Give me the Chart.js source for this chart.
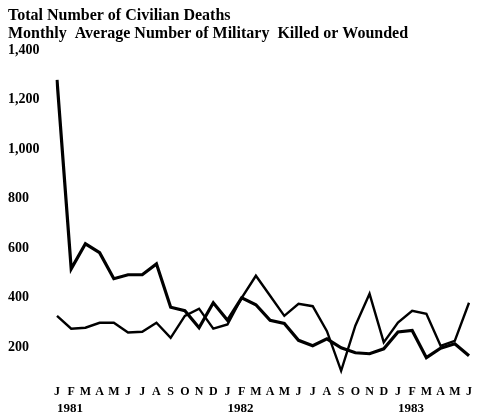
<!DOCTYPE html>
<html>
<head>
<meta charset="utf-8">
<script src="https://cdn.jsdelivr.net/npm/chart.js@4/dist/chart.umd.min.js"></script>
<style>
  html, body { margin: 0; padding: 0; background: #fff; }
  #wrap { width: 480px; height: 415px; }
</style>
</head>
<body>
<div id="wrap"><canvas id="chart" width="480" height="415"></canvas></div>
<script>
// month letters, Jan 1981 .. Jun 1983
const months = ['J', 'F', 'M', 'A', 'M', 'J', 'J', 'A', 'S', 'O', 'N', 'D',
  'J', 'F', 'M', 'A', 'M', 'J', 'J', 'A', 'S', 'O', 'N', 'D',
  'J', 'F', 'M', 'A', 'M', 'J']
const years = ['1981', '', '', '', '', '', '', '', '', '', '', '',
  '1982', '', '', '', '', '', '', '', '', '', '', '',
  '1983', '', '', '', '', '']

const civilianDeaths = [1280, 517, 618, 582, 477, 493, 493, 537, 362, 348, 279, 380,
  309, 400, 372, 309, 296, 228, 206, 234, 198, 178, 174, 194,
  262, 268, 158, 196, 214, 166]
const militaryCasualties = [327, 275, 279, 299, 299, 260, 263, 299, 238, 327, 356, 275,
  292, 400, 489, 408, 327, 376, 366, 265, 105, 287, 416, 220,
  300, 347, 335, 206, 226, 380]

const yTicks = [200, 400, 600, 800, 1000, 1200, 1400]

const serif = '"Liberation Serif", "DejaVu Serif", serif'

const ctx = document.getElementById('chart').getContext('2d')
const chart = new Chart(ctx, {
  type: 'line',
  data: {
    labels: months,
    datasets: [
      {
        label: 'Total Number of Civilian Deaths',
        data: civilianDeaths,
        borderColor: '#000',
        borderWidth: 3.2,
        pointRadius: 0,
        tension: 0,
        fill: false
      },
      {
        label: 'Monthly Average Number of Military Killed or Wounded',
        data: militaryCasualties,
        borderColor: '#000',
        borderWidth: 2.4,
        pointRadius: 0,
        tension: 0,
        fill: false
      }
    ]
  },
  options: {
    responsive: false,
    animation: false,
    devicePixelRatio: 1,
    layout: { padding: { left: 8, right: 6, top: 7, bottom: 0 } },
    plugins: {
      legend: { display: false },
      tooltip: { enabled: false },
      title: {
        display: true,
        align: 'start',
        text: ['Total Number of Civilian Deaths',
          'Monthly  Average Number of Military  Killed or Wounded'],
        color: '#000',
        font: { family: serif, size: 16, lineHeight: 1.1 },
        padding: { top: 0, bottom: 8 }
      }
    },
    scales: {
      x: {
        type: 'category',
        offset: false,
        weight: 0,
        grid: { display: false, drawTicks: false },
        border: { display: false },
        afterFit: (scale) => { scale.height = 22 },
        ticks: {
          autoSkip: false,
          maxRotation: 0,
          padding: 8,
          color: '#000',
          font: { family: serif, size: 12, weight: 'bold' }
        }
      },
      x2: {
        type: 'category',
        labels: years,
        position: 'bottom',
        offset: false,
        weight: 1,
        grid: { display: false, drawTicks: false },
        border: { display: false },
        afterFit: (scale) => { scale.height = 16 },
        ticks: {
          autoSkip: false,
          maxRotation: 0,
          align: 'start',
          padding: 2,
          color: '#000',
          font: { family: serif, size: 13, weight: 'bold' }
        }
      },
      y: {
        min: 80,
        max: 1400,
        grid: { display: false, drawTicks: false },
        border: { display: false },
        afterBuildTicks: (scale) => {
          scale.ticks = yTicks.map(v => ({ value: v }))
        },
        afterFit: (scale) => { scale.width = 49 },
        ticks: {
          crossAlign: 'far',
          padding: 0,
          color: '#000',
          font: { family: serif, size: 14, weight: 'bold' },
          callback: (v) => v.toLocaleString('en-US')
        }
      }
    }
  }
})
</script>
</body>
</html>
